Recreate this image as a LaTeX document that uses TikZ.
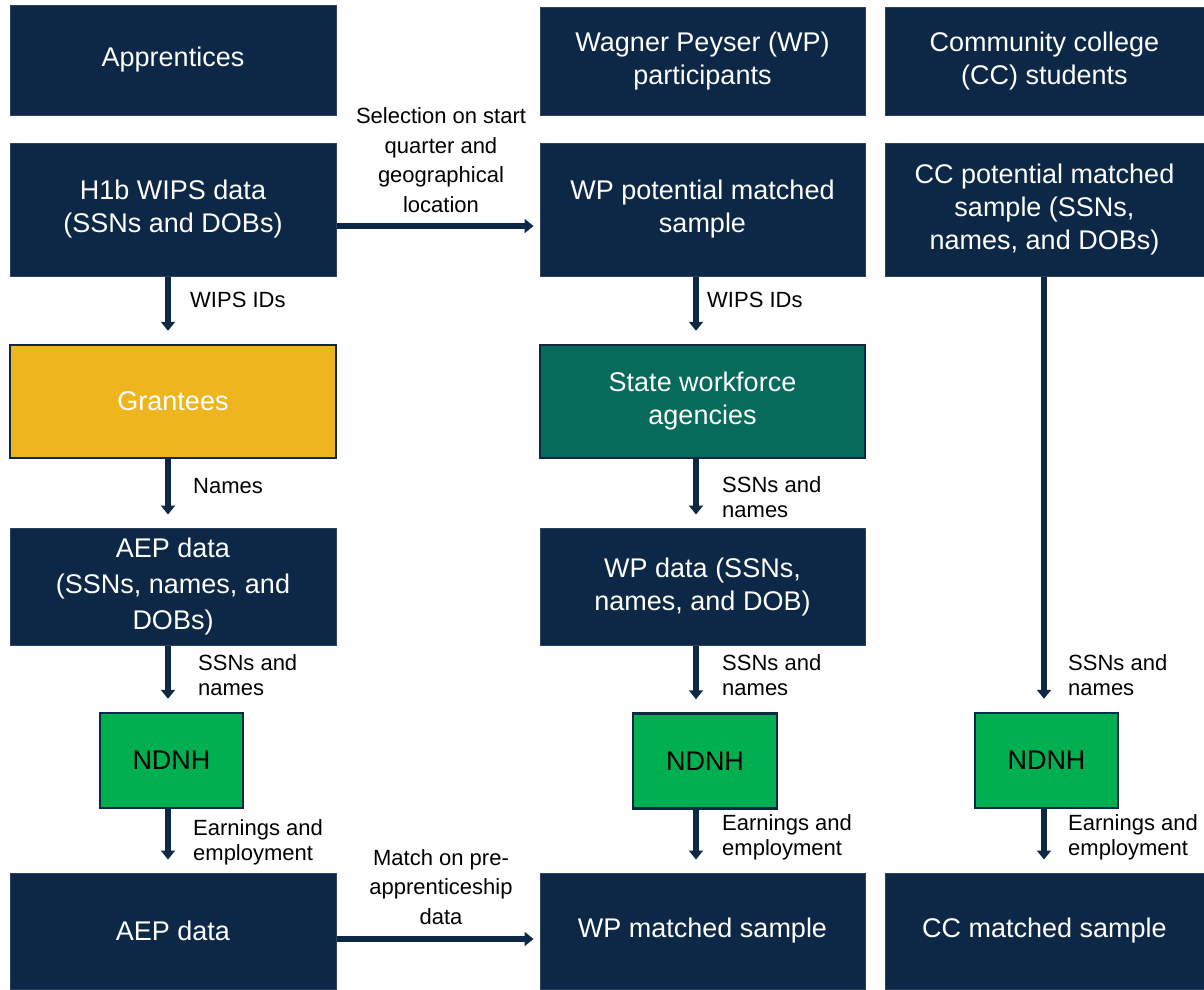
\documentclass[tikz,border=0pt]{standalone}
\usepackage{fontspec}
\setmainfont{Liberation Sans}
\usetikzlibrary{arrows.meta}
\definecolor{navy}{HTML}{0C2846}
\definecolor{edge}{HTML}{2E4260}
\definecolor{gold}{HTML}{EEB51E}
\definecolor{swagreen}{HTML}{066B5A}
\definecolor{ndnhgreen}{HTML}{00B050}

\begin{document}
\begin{tikzpicture}[x=1pt, y=-1pt,
    box/.style={fill=navy, draw=edge, line width=1pt, text=white, align=center,
      inner sep=0pt, font=\fontsize{27}{33}\selectfont},
    wh/.style 2 args={minimum width=#1, minimum height=#2},
    agency/.style={box, draw=navy, line width=2.5pt},
    arw/.style={-{Triangle[width=14pt,length=9pt]}, navy, line width=6pt, shorten >=13pt},
    lbl/.style={anchor=west, align=left, inner sep=0pt, font=\fontsize{22}{25}\selectfont},
    mid/.style={align=center, inner sep=0pt, font=\fontsize{22}{29.5}\selectfont}]
  \useasboundingbox (0,0) rectangle (1204,989);
  % columns of arrows and rows of the two cross arrows
  \coordinate (c1) at (168,0);
  \coordinate (c2) at (696,0);
  \coordinate (c3) at (1044,0);
  \coordinate (r1) at (0,226);
  \coordinate (r2) at (0,939);

  % top row
  \node[box, wh={326}{110}] (appr) at (173,60) {Apprentices};
  \node[box, wh={325}{108}] (wppart) at (702.5,61) {Wagner Peyser (WP)\\participants};
  \node[box, wh={319}{108}] (ccstud) at (1044.5,61) {Community college\\(CC) students};

  % samples
  \node[box, wh={326}{133}] (h1b) at (173,209.5) {H1b WIPS data\\(SSNs and DOBs)};
  \node[box, wh={325}{133}] (wppot) at (702.5,209.5) {WP potential matched\\sample};
  \node[box, wh={319}{133}] (ccpot) at (1044.5,209.5) {CC potential matched\\sample (SSNs,\\names, and DOBs)};

  % agencies
  \node[agency, fill=gold, wh={326}{113}] (grant) at (173,401.5) {Grantees};
  \node[agency, fill=swagreen, wh={325}{113}] (swa) at (702.5,401.5) {State workforce\\agencies};

  % data
  \node[box, wh={326}{117}, font=\fontsize{27}{36}\selectfont] (aep) at (173,586.5) {AEP data\\(SSNs, names, and\\DOBs)};
  \node[box, wh={325}{117}] (wpdat) at (702.5,586.5) {WP data (SSNs,\\names, and DOB)};

  % NDNH
  \node[agency, fill=ndnhgreen, text=black, wh={143}{95}] (ndnha) at (171.5,760.5) {NDNH};
  \node[agency, fill=ndnhgreen, text=black, wh={144}{95}] (ndnhb) at (705,761) {NDNH};
  \node[agency, fill=ndnhgreen, text=black, wh={143}{95}] (ndnhc) at (1046.5,760.5) {NDNH};

  % bottom row
  \node[box, wh={326}{116}] (aepout) at (173,931) {AEP data};
  \node[box, wh={325}{116}] (wpms) at (702.5,931) {WP matched sample};
  \node[box, wh={319}{116}] (ccms) at (1044.5,931) {CC matched sample};

  % arrows
  \draw[arw] (c1 |- h1b.south) -- (c1 |- grant.north);
  \draw[arw] (c1 |- grant.south) -- (c1 |- aep.north);
  \draw[arw] (c1 |- aep.south) -- (c1 |- ndnha.north);
  \draw[arw] (c1 |- ndnha.south) -- (c1 |- aepout.north);
  \draw[arw] (c2 |- wppot.south) -- (c2 |- swa.north);
  \draw[arw] (c2 |- swa.south) -- (c2 |- wpdat.north);
  \draw[arw] (c2 |- wpdat.south) -- (c2 |- ndnhb.north);
  \draw[arw] (c2 |- ndnhb.south) -- (c2 |- wpms.north);
  \draw[arw] (c3 |- ccpot.south) -- (c3 |- ndnhc.north);
  \draw[arw] (c3 |- ndnhc.south) -- (c3 |- ccms.north);
  \draw[arw, shorten >=6pt] (r1 -| h1b.east) -- (r1 -| wppot.west);
  \draw[arw, shorten >=6pt] (r2 -| aepout.east) -- (r2 -| wpms.west);

  % labels
  \node[lbl] (ida) at (190,300) {WIPS IDs};
  \node[lbl] (nma) at (193,486) {Names};
  \node[lbl] (ssa) at (198,675) {SSNs and\\names};
  \node[lbl] (ema) at (193,842) {Earnings and\\employment};
  \node[lbl] (idb) at (707,300) {WIPS IDs};
  \node[lbl] (ssb) at (722,497) {SSNs and\\names};
  \node[lbl] (ssc) at (722,675) {SSNs and\\names};
  \node[lbl] (emb) at (722,837) {Earnings and\\employment};
  \node[lbl] (ssd) at (1068,675) {SSNs and\\names};
  \node[lbl] (emc) at (1068,837) {Earnings and\\employment};
  \node[mid] (sel) at (441,160) {Selection on start\\quarter and\\geographical\\location};
  \node[mid] (mat) at (441,887) {Match on pre-\\apprenticeship\\data};
\end{tikzpicture}
\end{document}
